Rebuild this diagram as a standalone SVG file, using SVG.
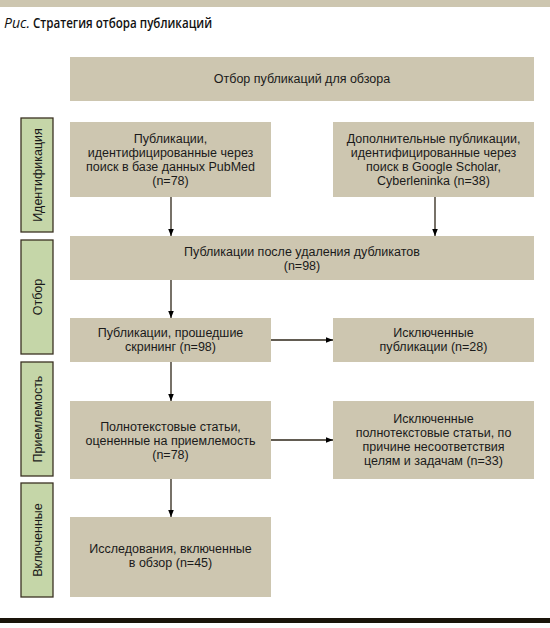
<svg xmlns="http://www.w3.org/2000/svg" width="550" height="628" viewBox="0 0 550 628">
  <defs>
    <style>
      .box { fill: #cdc6b0; }
      .side { fill: #c5d6a8; stroke: #3b3222; stroke-width: 1.3; }
      .t { font-family: "Liberation Sans", Arial, sans-serif; font-size: 12.5px; fill: #1a1a1a; text-anchor: middle; }
      .s { font-family: "Liberation Sans", Arial, sans-serif; font-size: 12.5px; fill: #1a1a1a; text-anchor: middle; }
      .ttl { font-family: "Open Sans", "Noto Sans", sans-serif; font-size: 14px; fill: #111; }
      .ln { stroke: #2e2618; stroke-width: 1.3; fill: none; marker-end: url(#ah); }
    </style>
    <marker id="ah" viewBox="0 0 10 10" refX="10" refY="5" markerWidth="7" markerHeight="7" markerUnits="userSpaceOnUse" orient="auto">
      <path d="M0,1 L10,5 L0,9 Z" fill="#000"/>
    </marker>
  </defs>
  <rect width="550" height="628" fill="#fff"/>
  <rect x="0" y="0" width="550" height="7" fill="#cdc6b0"/>
  <text class="ttl" x="4" y="28" font-style="italic" textLength="26" lengthAdjust="spacingAndGlyphs">Рис.</text>
  <text class="ttl" x="33" y="28" font-weight="600" textLength="179" lengthAdjust="spacingAndGlyphs">Стратегия отбора публикаций</text>

  <g id="side-identification">
    <rect class="side" x="21" y="118" width="32" height="114"/>
    <text class="s" transform="translate(41.5,175) rotate(-90)">Идентификация</text>
  </g>
  <g id="side-selection">
    <rect class="side" x="21" y="240" width="32" height="114"/>
    <text class="s" transform="translate(41.5,297) rotate(-90)">Отбор</text>
  </g>
  <g id="side-eligibility">
    <rect class="side" x="21" y="362" width="32" height="114"/>
    <text class="s" transform="translate(41.5,419) rotate(-90)">Приемлемость</text>
  </g>
  <g id="side-included">
    <rect class="side" x="21" y="483" width="32" height="114"/>
    <text class="s" transform="translate(41.5,540) rotate(-90)">Включенные</text>
  </g>

  <g id="n-header">
    <rect class="box" x="70" y="57" width="464" height="44"/>
    <text class="t" x="302" y="83">Отбор публикаций для обзора</text>
  </g>
  <g id="n-pubmed">
    <rect class="box" x="70" y="122" width="201" height="75"/>
    <text class="t" x="170.5" y="143">Публикации,</text>
    <text class="t" x="170.5" y="157">идентифицированные через</text>
    <text class="t" x="170.5" y="171">поиск в базе данных PubMed</text>
    <text class="t" x="170.5" y="185">(n=78)</text>
  </g>
  <g id="n-additional">
    <rect class="box" x="333" y="122" width="201" height="75"/>
    <text class="t" x="433.5" y="143">Дополнительные публикации,</text>
    <text class="t" x="433.5" y="157">идентифицированные через</text>
    <text class="t" x="433.5" y="171">поиск в Google Scholar,</text>
    <text class="t" x="433.5" y="185">Cyberleninka (n=38)</text>
  </g>
  <g id="n-dedup">
    <rect class="box" x="70" y="236" width="464" height="44"/>
    <text class="t" x="302" y="256">Публикации после удаления дубликатов</text>
    <text class="t" x="302" y="270">(n=98)</text>
  </g>
  <g id="n-screened">
    <rect class="box" x="70" y="318" width="201" height="44"/>
    <text class="t" x="170.5" y="337">Публикации, прошедшие</text>
    <text class="t" x="170.5" y="351">скрининг (n=98)</text>
  </g>
  <g id="n-excluded">
    <rect class="box" x="333" y="318" width="201" height="44"/>
    <text class="t" x="433.5" y="337">Исключенные</text>
    <text class="t" x="433.5" y="351">публикации (n=28)</text>
  </g>
  <g id="n-fulltext">
    <rect class="box" x="70" y="401" width="201" height="78"/>
    <text class="t" x="170.5" y="431">Полнотекстовые статьи,</text>
    <text class="t" x="170.5" y="445">оцененные на приемлемость</text>
    <text class="t" x="170.5" y="459">(n=78)</text>
  </g>
  <g id="n-excluded-fulltext">
    <rect class="box" x="333" y="401" width="201" height="78"/>
    <text class="t" x="433.5" y="423">Исключенные</text>
    <text class="t" x="433.5" y="437">полнотекстовые статьи, по</text>
    <text class="t" x="433.5" y="451">причине несоответствия</text>
    <text class="t" x="433.5" y="465">целям и задачам (n=33)</text>
  </g>
  <g id="n-included">
    <rect class="box" x="70" y="517" width="201" height="80"/>
    <text class="t" x="170.5" y="553">Исследования, включенные</text>
    <text class="t" x="170.5" y="567">в обзор (n=45)</text>
  </g>

  <g id="connectors">
    <line class="ln" x1="171" y1="197" x2="171" y2="236"/>
    <line class="ln" x1="435" y1="197" x2="435" y2="236"/>
    <line class="ln" x1="171" y1="280" x2="171" y2="318"/>
    <line class="ln" x1="271" y1="340" x2="333" y2="340"/>
    <line class="ln" x1="171" y1="362" x2="171" y2="401"/>
    <line class="ln" x1="271" y1="440" x2="333" y2="440"/>
    <line class="ln" x1="171" y1="479" x2="171" y2="517"/>
  </g>

  <rect x="0" y="618" width="550" height="5" fill="#1a140a"/>
</svg>
